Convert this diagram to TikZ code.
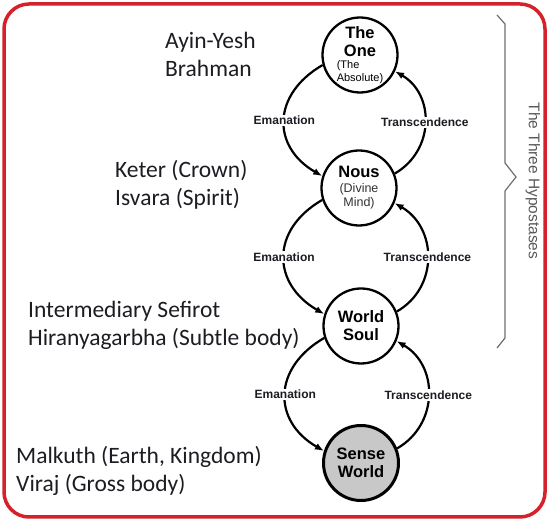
\documentclass[tikz,border=0pt]{standalone}
\usepackage{fontspec}
\setmainfont{Liberation Sans}
\newfontfamily\calibrifont{Carlito}
\usetikzlibrary{arrows.meta}
\definecolor{framered}{RGB}{212,33,42}
\definecolor{sensegray}{RGB}{200,200,200}
\definecolor{bracegray}{RGB}{110,110,110}
\definecolor{inkblack}{RGB}{28,28,34}
\begin{document}
\begin{tikzpicture}[x=1pt,y=1pt,
  hypo/.style={circle,draw,line width=2.3pt,minimum size=75pt,inner sep=0pt,align=center,fill=white,
    font=\bfseries\fontsize{16.5}{18}\selectfont},
  flowarc/.style={line width=2.2pt,-{Latex[length=9pt,width=7pt]},looseness=1.15},
  flowtag/.style={fill=white,inner sep=1.5pt,text=inkblack,font=\bfseries\fontsize{12}{14}\selectfont},
  sidetext/.style={anchor=west,align=left,inner sep=0pt,text=inkblack,font=\calibrifont\fontsize{23.5}{28}\selectfont}]
  \useasboundingbox (0,0) rectangle (549,521);
  \draw[framered,line width=3.5pt,rounded corners=25pt] (4,4) rectangle (545,517);

  \node[sidetext] (ayin) at (165,467) {Ayin-Yesh\\Brahman};
  \node[sidetext] (keter) at (115,336) {Keter (Crown)\\Isvara (Spirit)};
  \node[sidetext] (sefirot) at (28,196) {Intermediary Sefirot\\Hiranyagarbha (Subtle body)};
  \node[sidetext] (malkuth) at (16,50) {Malkuth (Earth, Kingdom)\\Viraj (Gross body)};

  \node[hypo] (one) at (360,466) {The\\One\\[3pt]{\mdseries\fontsize{11}{9.5}\selectfont\shortstack[l]{(The\\Absolute)}}};
  \node[hypo] (nous) at (359,333) {Nous\\[4pt]{\mdseries\fontsize{12.5}{14}\selectfont\color{black!80}\shortstack{(Divine\\Mind)}}};
  \node[hypo] (soul) at (361,195) {World\\Soul};
  \node[hypo,fill=sensegray,line width=3pt] (sense) at (361,58) {Sense\\World};

  \draw[flowarc,looseness=1.35] (one.195) to[out=210,in=150] node[flowtag]{Emanation} (nous.162);
  \draw[flowarc] (nous.22) to[out=30,in=-30] node[flowtag]{Transcendence} (one.-25);
  \draw[flowarc,looseness=1.35] (nous.198) to[out=210,in=150] node[flowtag]{Emanation} (soul.162);
  \draw[flowarc] (soul.22) to[out=30,in=-30] node[flowtag]{Transcendence} (nous.-23);
  \draw[flowarc,looseness=1.35] (soul.198) to[out=210,in=150] node[flowtag]{Emanation} (sense.162);
  \draw[flowarc] (sense.22) to[out=30,in=-30] node[flowtag]{Transcendence} (soul.-23);

  \draw[bracegray,line width=1.2pt] (497,506) -- (505,497) -- (505,358) -- (516,344) -- (505,330) -- (505,183) -- (497,173);
  \node[rotate=-90,text=black!65,font=\fontsize{15.5}{18}\selectfont] (hypostases) at (533,340) {The Three Hypostases};
\end{tikzpicture}
\end{document}
